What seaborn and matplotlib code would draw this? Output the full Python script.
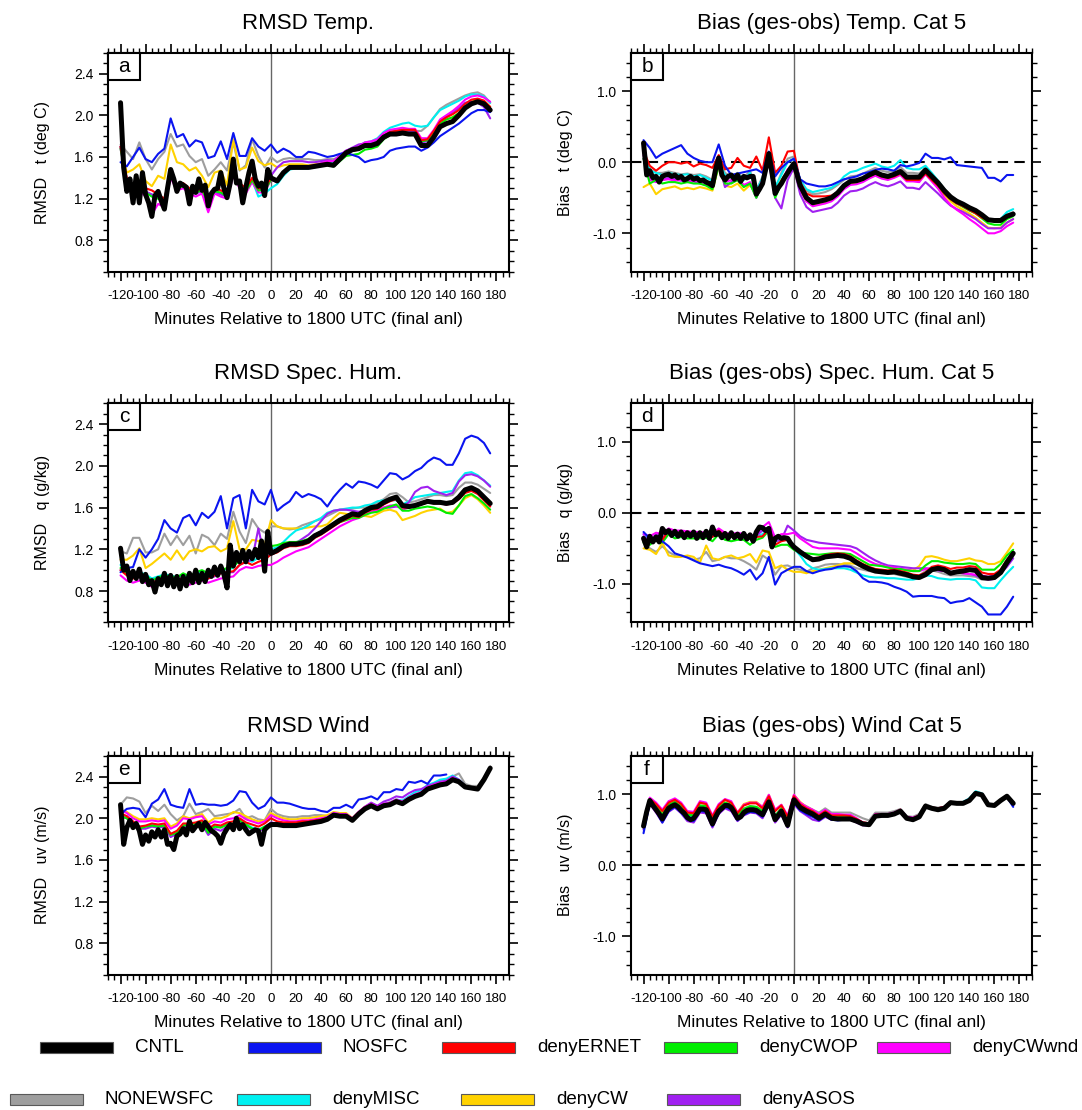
"""
plot.py - RMSD and bias (ges-obs) of surface obs against minutes relative to the
1800 UTC final analysis, for the CNTL run and eight surface data-denial runs.
"""

import numpy as np
import pandas as pd
import matplotlib
matplotlib.use('Agg')
import matplotlib.pyplot as plt
import seaborn as sns
from matplotlib.patches import Rectangle
from matplotlib.ticker import MultipleLocator, FormatStrFormatter

nan = np.nan

# ── Time axes (minutes relative to 1800 UTC) ──
MINUTES = np.arange(-120, 180, 5)                          # denial runs: every 5 min
MINUTES_CNTL = np.concatenate([np.arange(-120, 0, 2.5),   # CNTL: 2.5 min before anl
                               np.arange(0, 180, 5)])      # then 5 min

# drawing order (CNTL last, on top)
EXPERIMENTS = ['NONEWSFC', 'denyCW', 'denyMISC', 'denyASOS', 'denyCWwnd',
               'denyCWOP', 'denyERNET', 'NOSFC', 'CNTL']
COLORS = {'CNTL': '#000000', 'NOSFC': '#0a14f0', 'denyERNET': '#ff0000',
          'denyCWOP': '#00ee00', 'denyCWwnd': '#ff00ff', 'NONEWSFC': '#9e9e9e',
          'denyMISC': '#00f0f0', 'denyCW': '#ffd200', 'denyASOS': '#a020f0'}
WIDTHS = {name: 1.5 for name in EXPERIMENTS}
WIDTHS['CNTL'] = 3.6

# ── (a) RMSD temperature ──
A_CNTL = [2.12, 1.50, 1.27, 1.39, 1.16, 1.42, 1.16, 1.45, 1.24, 1.16, 1.03, 1.23,
          1.27, 1.18, 1.10, 1.30, 1.48, 1.39, 1.27, 1.35, 1.33, 1.31, 1.15, 1.32,
          1.26, 1.39, 1.28, 1.33, 1.13, 1.25, 1.29, 1.30, 1.45, 1.30, 1.21, 1.35,
          1.58, 1.35, 1.37, 1.16, 1.31, 1.45, 1.56, 1.39, 1.32, 1.35, 1.23, 1.48] + \
         [1.40, 1.37, 1.45, 1.50, 1.50, 1.50, 1.50, 1.51, 1.52, 1.53, 1.52, 1.58,
          1.64, 1.67, 1.68, 1.71, 1.71, 1.73, 1.79, 1.82, 1.82, 1.83, 1.82, 1.82,
          1.71, 1.71, 1.79, 1.89, 1.92, 1.94, 2.00, 2.07, 2.11, 2.13, 2.11, 2.05]
A_NOSFC = [1.55, 1.51, 1.60, 1.69, 1.58, 1.55, 1.63, 1.68, 1.97, 1.79, 1.82, 1.70,
           1.76, 1.74, 1.59, 1.61, 1.75, 1.58, 1.83, 1.61, 1.61, 1.78, 1.70, 1.66,
           1.72, 1.64, 1.68, 1.65, 1.60, 1.60, 1.65, 1.64, 1.62, 1.60, 1.61, 1.63,
           1.64, 1.62, 1.60, 1.55, 1.57, 1.58, 1.60, 1.66, 1.68, 1.69, 1.70, 1.70,
           1.66, 1.69, 1.74, 1.80, 1.84, 1.88, 1.92, 1.97, 2.02, 2.05, 2.05, 2.03]
A_ERNET = [1.70, 1.40, 1.28, 1.32, 1.30, 1.28, 1.24, 1.20, 1.44, 1.32, 1.35, 1.30,
           1.28, 1.30, 1.20, 1.30, 1.28, 1.25, 1.45, 1.35, 1.30, 1.40, 1.30, 1.30,
           1.40, 1.38, 1.45, 1.50, 1.50, 1.51, 1.51, 1.52, 1.53, 1.54, 1.53, 1.59,
           1.64, 1.66, 1.67, 1.71, 1.72, 1.74, 1.80, 1.84, 1.85, 1.86, 1.86, 1.86,
           1.76, 1.77, 1.85, 1.94, 1.98, 2.01, 2.05, 2.11, 2.15, 2.16, 2.14, 2.08]
A_CWOP = [1.68, 1.36, 1.25, 1.30, 1.26, 1.22, 1.20, 1.17, 1.42, 1.30, 1.32, 1.28,
          1.26, 1.28, 1.17, 1.27, 1.26, 1.22, 1.44, 1.32, 1.27, 1.38, 1.28, 1.28,
          1.38, 1.37, 1.44, 1.49, 1.50, 1.50, 1.50, 1.51, 1.52, 1.52, 1.51, 1.56,
          1.61, 1.62, 1.63, 1.67, 1.68, 1.70, 1.77, 1.81, 1.83, 1.84, 1.83, 1.83,
          1.75, 1.76, 1.83, 1.92, 1.96, 1.98, 2.02, 2.07, 2.11, 2.13, 2.11, 2.05]
A_CWWND = [1.68, 1.35, 1.22, 1.28, 1.22, 1.05, 1.15, 1.12, 1.40, 1.28, 1.30, 1.25,
           1.22, 1.25, 1.07, 1.25, 1.22, 1.20, 1.42, 1.30, 1.25, 1.36, 1.26, 1.26,
           1.38, 1.36, 1.44, 1.49, 1.50, 1.51, 1.51, 1.52, 1.54, 1.56, 1.56, 1.61,
           1.66, 1.68, 1.70, 1.74, 1.75, 1.77, 1.83, 1.86, 1.87, 1.88, 1.87, 1.87,
           1.78, 1.78, 1.86, 1.96, 2.00, 2.04, 2.09, 2.15, 2.18, 2.19, 2.17, 2.13]
A_NONEW = [1.72, 1.65, 1.58, 1.74, 1.58, 1.48, 1.58, 1.65, 1.82, 1.70, 1.72, 1.61,
           1.55, 1.58, 1.42, 1.48, 1.55, 1.47, 1.74, 1.47, 1.52, 1.77, 1.61, 1.50,
           1.60, 1.55, 1.58, 1.59, 1.58, 1.58, 1.58, 1.57, 1.57, 1.58, 1.58, 1.60,
           1.64, 1.67, 1.68, 1.72, 1.73, 1.75, 1.80, 1.83, 1.85, 1.86, 1.86, 1.85,
           1.85, 1.90, 1.98, 2.06, 2.10, 2.13, 2.16, 2.19, 2.21, 2.22, 2.19, 2.12]
A_MISC = [1.70, 1.38, 1.27, 1.30, 1.26, 1.24, 1.22, 1.15, 1.42, 1.30, 1.32, 1.28,
          1.25, 1.28, 1.17, 1.27, 1.25, 1.22, 1.44, 1.32, 1.28, 1.38, 1.22, 1.25,
          1.30, 1.34, 1.42, 1.48, 1.49, 1.49, 1.49, 1.50, 1.52, 1.54, 1.55, 1.60,
          1.66, 1.68, 1.70, 1.74, 1.75, 1.78, 1.84, 1.88, 1.90, 1.92, 1.93, 1.90,
          1.89, 1.90, 1.98, 2.05, 2.08, 2.11, 2.14, 2.18, 2.20, 2.20, 2.18, 2.12]
A_CW = [1.70, 1.45, 1.48, 1.53, 1.37, 1.32, 1.42, 1.39, 1.72, 1.55, 1.53, 1.47,
        1.50, 1.42, 1.31, 1.45, 1.47, 1.33, 1.77, 1.48, 1.50, 1.69, 1.56, 1.52,
        1.54, 1.50, 1.52, 1.53, 1.53, 1.53, 1.52, 1.53, 1.54, 1.55, 1.54, 1.59,
        1.64, 1.66, 1.67, 1.70, 1.70, 1.72, 1.78, 1.82, 1.83, 1.84, 1.83, 1.84,
        1.76, 1.76, 1.82, 1.92, 1.96, 1.98, 2.02, 2.08, 2.13, 2.15, 2.14, 2.08]
A_ASOS = [1.70, 1.38, 1.26, 1.30, 1.27, 1.24, 1.22, 1.12, 1.42, 1.30, 1.31, 1.27,
          1.25, 1.27, 1.15, 1.26, 1.24, 1.22, 1.46, 1.32, 1.28, 1.38, 1.28, 1.35,
          1.42, 1.50, 1.55, 1.56, 1.56, 1.56, 1.55, 1.55, 1.56, 1.57, 1.56, 1.62,
          1.66, 1.69, 1.72, 1.73, 1.73, 1.75, 1.81, 1.84, 1.85, 1.86, 1.85, 1.85,
          1.74, 1.75, 1.85, 1.94, 1.99, 2.03, 2.07, 2.12, 2.13, 2.12, 2.08, 1.97]

# ── (b) bias temperature ──
B_CNTL = [0.27, -0.18, -0.12, -0.22, -0.20, -0.28, -0.20, -0.18, -0.17, -0.20, -0.18, -0.22,
          -0.20, -0.25, -0.23, -0.20, -0.24, -0.22, -0.26, -0.25, -0.28, -0.30, -0.33, -0.10,
          0.06, -0.18, -0.25, -0.20, -0.18, -0.24, -0.18, -0.27, -0.20, -0.22, -0.20, -0.20,
          -0.45, -0.38, -0.30, -0.10, 0.12, -0.15, -0.44, -0.36, -0.30, -0.22, -0.15, -0.08] + \
         [-0.02, -0.33, -0.50, -0.57, -0.55, -0.53, -0.50, -0.43, -0.33, -0.27, -0.26, -0.23,
          -0.18, -0.14, -0.18, -0.20, -0.17, -0.13, -0.21, -0.21, -0.21, -0.11, -0.20, -0.29,
          -0.40, -0.49, -0.55, -0.59, -0.64, -0.68, -0.74, -0.81, -0.82, -0.82, -0.76, -0.73]
B_NOSFC = [0.31, 0.20, 0.06, 0.12, 0.16, 0.20, 0.24, 0.12, 0.06, 0.02, 0.00, 0.00,
           0.25, -0.05, -0.18, -0.16, -0.14, -0.12, -0.10, -0.15, 0.15, -0.20, -0.08, 0.00,
           0.05, -0.24, -0.30, -0.32, -0.34, -0.34, -0.32, -0.28, -0.24, -0.22, -0.20, -0.16,
           -0.14, -0.11, -0.09, -0.10, -0.12, -0.04, -0.06, -0.04, -0.01, 0.12, 0.06, 0.06,
           0.04, 0.07, -0.04, -0.05, -0.06, -0.07, -0.08, -0.22, -0.22, -0.27, -0.18, -0.18]
B_ERNET = [0.15, -0.05, -0.12, -0.05, 0.00, 0.00, -0.02, 0.00, -0.06, -0.02, -0.04, -0.08,
           0.10, -0.10, -0.08, 0.06, -0.05, -0.08, 0.08, -0.12, 0.35, -0.15, -0.05, 0.15,
           0.16, -0.28, -0.44, -0.48, -0.48, -0.48, -0.47, -0.42, -0.33, -0.28, -0.27, -0.24,
           -0.20, -0.16, -0.20, -0.22, -0.20, -0.16, -0.25, -0.25, -0.25, -0.16, -0.25, -0.33,
           -0.44, -0.52, -0.58, -0.62, -0.67, -0.72, -0.78, -0.82, -0.82, -0.83, -0.77, -0.74]
B_CWOP = [0.05, -0.30, -0.25, -0.30, -0.28, -0.28, -0.30, -0.28, -0.30, -0.30, -0.33, -0.38,
          -0.05, -0.30, -0.30, -0.25, -0.35, -0.30, -0.50, -0.30, 0.05, -0.50, -0.30, -0.15,
          -0.05, -0.35, -0.52, -0.58, -0.56, -0.54, -0.51, -0.44, -0.34, -0.28, -0.27, -0.24,
          -0.19, -0.15, -0.19, -0.21, -0.18, -0.14, -0.22, -0.22, -0.23, -0.13, -0.22, -0.32,
          -0.44, -0.52, -0.58, -0.63, -0.68, -0.72, -0.79, -0.86, -0.88, -0.88, -0.80, -0.76]
B_CWWND = [0.10, -0.25, -0.28, -0.25, -0.24, -0.26, -0.25, -0.27, -0.26, -0.28, -0.30, -0.35,
           0.00, -0.28, -0.25, -0.22, -0.32, -0.28, -0.45, -0.25, 0.05, -0.45, -0.28, -0.10,
           -0.05, -0.38, -0.55, -0.62, -0.60, -0.58, -0.55, -0.48, -0.38, -0.32, -0.31, -0.28,
           -0.23, -0.19, -0.23, -0.25, -0.22, -0.18, -0.27, -0.27, -0.28, -0.17, -0.27, -0.37,
           -0.50, -0.60, -0.67, -0.73, -0.80, -0.86, -0.93, -1.00, -1.00, -0.97, -0.90, -0.85]
B_NONEW = [0.22, -0.10, -0.15, -0.15, -0.13, -0.15, -0.17, -0.16, -0.18, -0.17, -0.20, -0.25,
           0.02, -0.15, -0.20, -0.15, -0.22, -0.12, -0.40, -0.20, 0.10, -0.38, -0.15, 0.05,
           0.08, -0.25, -0.40, -0.45, -0.44, -0.42, -0.38, -0.32, -0.25, -0.20, -0.19, -0.16,
           -0.12, -0.08, -0.12, -0.14, -0.12, -0.07, -0.15, -0.15, -0.16, -0.08, -0.17, -0.26,
           -0.37, -0.46, -0.53, -0.58, -0.63, -0.68, -0.74, -0.81, -0.80, -0.80, -0.74, -0.70]
B_MISC = [0.15, -0.12, -0.15, -0.18, -0.15, -0.17, -0.18, -0.17, -0.20, -0.18, -0.22, -0.26,
          0.00, -0.18, -0.22, -0.16, -0.25, -0.15, -0.40, -0.22, 0.08, -0.35, -0.18, 0.00,
          0.05, -0.25, -0.38, -0.42, -0.40, -0.38, -0.36, -0.30, -0.20, -0.14, -0.12, -0.08,
          -0.05, -0.02, -0.06, -0.08, -0.05, 0.03, -0.08, -0.10, -0.10, -0.05, -0.15, -0.26,
          -0.38, -0.48, -0.55, -0.60, -0.65, -0.70, -0.76, -0.82, -0.80, -0.80, -0.70, -0.66]
B_CW = [-0.35, -0.30, -0.45, -0.38, -0.36, -0.34, -0.38, -0.36, -0.38, -0.35, -0.37, -0.40,
        -0.05, -0.33, -0.35, -0.30, -0.40, -0.32, -0.45, -0.30, 0.05, -0.40, -0.25, -0.12,
        -0.10, -0.40, -0.55, -0.60, -0.58, -0.56, -0.53, -0.46, -0.36, -0.30, -0.29, -0.26,
        -0.21, -0.17, -0.21, -0.23, -0.20, -0.16, -0.25, -0.25, -0.26, -0.15, -0.24, -0.34,
        -0.46, -0.55, -0.62, -0.67, -0.72, -0.78, -0.85, -0.92, -0.93, -0.92, -0.85, -0.80]
B_ASOS = [0.05, -0.22, -0.20, -0.25, -0.22, -0.24, -0.26, -0.28, -0.27, -0.30, -0.32, -0.35,
          0.00, -0.35, -0.28, -0.25, -0.33, -0.30, -0.50, -0.30, 0.00, -0.50, -0.65, -0.25,
          -0.08, -0.45, -0.63, -0.70, -0.68, -0.66, -0.64, -0.57, -0.47, -0.41, -0.40, -0.37,
          -0.32, -0.28, -0.32, -0.34, -0.31, -0.27, -0.36, -0.36, -0.38, -0.28, -0.36, -0.44,
          -0.53, -0.61, -0.66, -0.70, -0.75, -0.80, -0.87, -0.93, -0.93, -0.93, -0.85, -0.80]

# ── (c) RMSD specific humidity ──
C_CNTL = [1.21, 1.00, 1.04, 0.90, 0.99, 0.92, 1.01, 0.89, 0.96, 0.86, 0.90, 0.79,
          0.92, 0.86, 0.97, 0.85, 0.95, 0.84, 0.94, 0.82, 0.94, 0.85, 0.97, 0.88,
          1.00, 0.88, 0.97, 0.89, 1.00, 0.94, 1.03, 0.95, 1.04, 0.96, 0.83, 1.24,
          1.04, 1.17, 1.08, 1.19, 1.08, 1.18, 1.11, 1.20, 1.12, 1.28, 0.99, 1.37] + \
         [1.16, 1.19, 1.23, 1.25, 1.25, 1.26, 1.28, 1.33, 1.36, 1.40, 1.44, 1.48,
          1.51, 1.54, 1.53, 1.57, 1.60, 1.61, 1.65, 1.68, 1.70, 1.62, 1.61, 1.62,
          1.64, 1.66, 1.65, 1.65, 1.64, 1.65, 1.70, 1.77, 1.79, 1.76, 1.70, 1.64]
C_NOSFC = [0.98, 1.02, 1.03, 1.20, 1.12, 1.20, 1.30, 1.48, 1.40, 1.36, 1.50, 1.53,
           1.43, 1.55, 1.50, 1.56, 1.71, 1.40, 1.69, 1.72, 1.40, 1.77, 1.66, 1.63,
           1.77, 1.57, 1.62, 1.66, 1.75, 1.70, 1.73, 1.71, 1.68, 1.61, 1.70, 1.77,
           1.83, 1.79, 1.85, 1.84, 1.82, 1.79, 1.86, 1.93, 1.92, 1.87, 1.90, 1.95,
           1.98, 2.04, 2.08, 2.06, 2.01, 2.01, 2.12, 2.26, 2.29, 2.27, 2.22, 2.12]
C_ERNET = [1.00, 0.95, 0.92, 0.95, 0.93, 0.88, 0.90, 0.93, 0.92, 0.90, 0.93, 0.90,
           0.93, 0.95, 0.92, 0.95, 0.97, 0.98, 0.99, 1.05, 1.08, 1.05, 1.08, 1.10,
           1.15, 1.17, 1.21, 1.23, 1.23, 1.24, 1.26, 1.31, 1.34, 1.38, 1.42, 1.46,
           1.49, 1.52, 1.51, 1.55, 1.58, 1.59, 1.63, 1.66, 1.68, 1.60, 1.60, 1.61,
           1.63, 1.65, 1.64, 1.64, 1.63, 1.64, 1.68, 1.74, 1.76, 1.73, 1.67, 1.61]
C_CWOP = [1.02, 0.97, 0.95, 0.97, 0.95, 0.90, 0.93, 0.95, 0.94, 0.93, 0.97, 0.94,
          0.98, 1.00, 0.97, 0.98, 1.00, 1.02, 1.03, 1.10, 1.12, 1.12, 1.15, 1.16,
          1.23, 1.24, 1.26, 1.27, 1.27, 1.28, 1.30, 1.34, 1.37, 1.40, 1.43, 1.46,
          1.48, 1.50, 1.50, 1.53, 1.55, 1.56, 1.59, 1.61, 1.63, 1.57, 1.57, 1.59,
          1.60, 1.61, 1.60, 1.58, 1.55, 1.54, 1.62, 1.71, 1.73, 1.69, 1.64, 1.58]
C_CWWND = [0.95, 0.90, 0.88, 0.90, 0.88, 0.84, 0.86, 0.89, 0.88, 0.86, 0.89, 0.86,
           0.88, 0.90, 0.88, 0.90, 0.92, 0.93, 0.94, 1.00, 1.03, 1.02, 1.04, 1.05,
           1.05, 1.08, 1.12, 1.15, 1.18, 1.20, 1.22, 1.26, 1.30, 1.34, 1.38, 1.42,
           1.45, 1.48, 1.50, 1.53, 1.56, 1.57, 1.60, 1.62, 1.62, 1.58, 1.60, 1.62,
           1.64, 1.65, 1.65, 1.64, 1.63, 1.64, 1.70, 1.76, 1.78, 1.75, 1.68, 1.62]
C_NONEW = [1.18, 1.16, 1.31, 1.31, 1.17, 1.17, 1.20, 1.35, 1.24, 1.33, 1.24, 1.33,
           1.16, 1.34, 1.31, 1.24, 1.35, 1.30, 1.56, 1.37, 1.26, 1.49, 1.40, 1.36,
           1.42, 1.42, 1.40, 1.39, 1.40, 1.43, 1.45, 1.47, 1.49, 1.52, 1.55, 1.58,
           1.58, 1.59, 1.60, 1.60, 1.62, 1.65, 1.68, 1.73, 1.74, 1.70, 1.65, 1.66,
           1.68, 1.70, 1.72, 1.72, 1.71, 1.72, 1.79, 1.84, 1.84, 1.82, 1.78, 1.74]
C_MISC = [1.05, 1.00, 0.95, 0.98, 0.96, 0.92, 0.94, 0.96, 0.95, 0.93, 0.96, 0.93,
          0.96, 0.98, 0.95, 0.97, 1.00, 1.01, 1.02, 1.12, 1.10, 1.08, 1.12, 1.14,
          1.20, 1.22, 1.27, 1.33, 1.38, 1.40, 1.43, 1.47, 1.50, 1.55, 1.57, 1.58,
          1.59, 1.60, 1.60, 1.62, 1.63, 1.66, 1.67, 1.67, 1.67, 1.63, 1.66, 1.70,
          1.71, 1.72, 1.73, 1.74, 1.75, 1.76, 1.86, 1.93, 1.94, 1.91, 1.86, 1.81]
C_CW = [1.10, 1.10, 1.14, 1.21, 1.02, 1.06, 1.11, 1.16, 1.10, 1.19, 1.10, 1.18,
        1.20, 1.18, 1.22, 1.23, 1.18, 1.21, 1.47, 1.20, 1.20, 1.29, 1.28, 1.24,
        1.48, 1.42, 1.40, 1.40, 1.40, 1.40, 1.41, 1.42, 1.42, 1.44, 1.50, 1.55,
        1.54, 1.53, 1.52, 1.52, 1.51, 1.54, 1.57, 1.58, 1.56, 1.48, 1.50, 1.52,
        1.55, 1.57, 1.58, 1.59, 1.55, 1.56, 1.62, 1.69, 1.72, 1.68, 1.62, 1.55]
C_ASOS = [1.00, 0.96, 0.93, 0.95, 0.93, 0.89, 0.91, 0.93, 0.92, 0.90, 0.93, 0.90,
          0.93, 0.95, 0.92, 0.94, 0.97, 0.98, 0.98, 1.05, 1.08, 1.10, 1.40, 1.12,
          1.15, 1.18, 1.22, 1.25, 1.26, 1.30, 1.34, 1.40, 1.47, 1.54, 1.57, 1.58,
          1.58, 1.57, 1.56, 1.57, 1.56, 1.58, 1.60, 1.60, 1.61, 1.60, 1.65, 1.75,
          1.79, 1.80, 1.76, 1.74, 1.72, 1.74, 1.85, 1.91, 1.92, 1.90, 1.86, 1.80]

# ── (d) bias specific humidity ──
D_CNTL = [-0.36, -0.48, -0.33, -0.41, -0.34, -0.41, -0.22, -0.28, -0.25, -0.32, -0.26, -0.33,
          -0.27, -0.35, -0.28, -0.33, -0.27, -0.36, -0.28, -0.35, -0.26, -0.36, -0.20, -0.31,
          -0.28, -0.35, -0.29, -0.36, -0.28, -0.35, -0.30, -0.36, -0.29, -0.37, -0.31, -0.40,
          -0.27, -0.20, -0.21, -0.25, -0.22, -0.48, -0.36, -0.33, -0.36, -0.35, -0.36, -0.43] + \
         [-0.48, -0.55, -0.61, -0.66, -0.65, -0.62, -0.61, -0.60, -0.61, -0.64, -0.70, -0.75,
          -0.79, -0.82, -0.83, -0.84, -0.83, -0.85, -0.87, -0.90, -0.91, -0.87, -0.80, -0.78,
          -0.80, -0.85, -0.83, -0.82, -0.80, -0.81, -0.91, -0.92, -0.91, -0.84, -0.70, -0.57]
D_NOSFC = [-0.27, -0.36, -0.38, -0.40, -0.47, -0.57, -0.60, -0.63, -0.67, -0.71, -0.73, -0.75,
           -0.73, -0.76, -0.78, -0.82, -0.87, -0.80, -0.94, -0.85, -0.62, -1.01, -0.85, -0.80,
           -0.76, -0.76, -0.82, -0.85, -0.82, -0.80, -0.79, -0.76, -0.75, -0.76, -0.82, -0.92,
           -0.97, -0.97, -0.98, -1.00, -1.04, -1.07, -1.11, -1.18, -1.17, -1.17, -1.17, -1.19,
           -1.20, -1.27, -1.25, -1.24, -1.20, -1.26, -1.32, -1.43, -1.43, -1.43, -1.32, -1.18]
D_ERNET = [-0.38, -0.40, -0.33, -0.38, -0.25, -0.30, -0.28, -0.30, -0.30, -0.30, -0.30, -0.34,
           -0.25, -0.33, -0.33, -0.33, -0.32, -0.35, -0.34, -0.33, -0.22, -0.45, -0.40, -0.38,
           -0.48, -0.55, -0.62, -0.64, -0.63, -0.60, -0.58, -0.57, -0.58, -0.61, -0.67, -0.72,
           -0.76, -0.79, -0.80, -0.81, -0.80, -0.82, -0.84, -0.87, -0.88, -0.84, -0.76, -0.74,
           -0.76, -0.79, -0.77, -0.77, -0.75, -0.76, -0.84, -0.86, -0.86, -0.80, -0.66, -0.55]
D_CWOP = [-0.42, -0.45, -0.38, -0.42, -0.30, -0.36, -0.34, -0.36, -0.36, -0.36, -0.35, -0.40,
          -0.30, -0.38, -0.40, -0.38, -0.38, -0.45, -0.38, -0.35, -0.25, -0.48, -0.45, -0.45,
          -0.52, -0.56, -0.57, -0.58, -0.59, -0.58, -0.57, -0.57, -0.57, -0.58, -0.63, -0.68,
          -0.73, -0.74, -0.75, -0.77, -0.79, -0.79, -0.81, -0.82, -0.82, -0.74, -0.68, -0.68,
          -0.70, -0.71, -0.72, -0.72, -0.71, -0.72, -0.80, -0.80, -0.80, -0.72, -0.60, -0.52]
D_CWWND = [-0.30, -0.33, -0.28, -0.30, -0.22, -0.25, -0.25, -0.26, -0.27, -0.27, -0.28, -0.30,
           -0.22, -0.28, -0.30, -0.28, -0.30, -0.33, -0.30, -0.20, -0.13, -0.35, -0.30, -0.30,
           -0.28, -0.36, -0.42, -0.48, -0.50, -0.50, -0.50, -0.50, -0.51, -0.52, -0.57, -0.63,
           -0.68, -0.72, -0.74, -0.76, -0.77, -0.79, -0.80, -0.82, -0.82, -0.79, -0.78, -0.80,
           -0.82, -0.84, -0.84, -0.85, -0.86, -0.87, -0.88, -0.90, -0.88, -0.82, -0.70, -0.58]
D_NONEW = [-0.41, -0.50, -0.55, -0.47, -0.55, -0.60, -0.60, -0.62, -0.66, -0.64, -0.55, -0.68,
           -0.66, -0.62, -0.64, -0.64, -0.68, -0.73, -0.80, -0.60, -0.66, -0.87, -0.75, -0.74,
           -0.78, -0.80, -0.83, -0.78, -0.76, -0.73, -0.72, -0.72, -0.73, -0.74, -0.78, -0.80,
           -0.82, -0.83, -0.84, -0.85, -0.86, -0.88, -0.90, -0.90, -0.88, -0.82, -0.81, -0.83,
           -0.86, -0.88, -0.88, -0.88, -0.89, -0.90, -0.94, -0.94, -0.93, -0.80, -0.66, -0.57]
D_MISC = [-0.30, -0.40, -0.33, -0.38, -0.28, -0.32, -0.29, -0.32, -0.30, -0.31, -0.30, -0.34,
          -0.26, -0.33, -0.33, -0.32, -0.33, -0.36, -0.33, -0.30, -0.22, -0.40, -0.38, -0.36,
          -0.50, -0.60, -0.72, -0.78, -0.80, -0.79, -0.78, -0.78, -0.78, -0.80, -0.84, -0.88,
          -0.90, -0.91, -0.91, -0.92, -0.92, -0.93, -0.94, -0.94, -0.92, -0.88, -0.89, -0.92,
          -0.93, -0.94, -0.93, -0.93, -0.93, -0.95, -1.05, -1.06, -1.06, -0.95, -0.85, -0.76]
D_CW = [-0.50, -0.52, -0.58, -0.42, -0.60, -0.62, -0.62, -0.60, -0.62, -0.70, -0.46, -0.64,
        -0.66, -0.62, -0.60, -0.64, -0.62, -0.58, -0.70, -0.53, -0.55, -0.78, -0.74, -0.80,
        -0.83, -0.83, -0.85, -0.82, -0.80, -0.78, -0.76, -0.74, -0.71, -0.71, -0.72, -0.77,
        -0.78, -0.80, -0.81, -0.82, -0.81, -0.80, -0.80, -0.81, -0.75, -0.62, -0.61, -0.63,
        -0.66, -0.68, -0.68, -0.66, -0.64, -0.67, -0.68, -0.72, -0.72, -0.68, -0.56, -0.43]
D_ASOS = [-0.33, -0.40, -0.30, -0.36, -0.25, -0.30, -0.28, -0.30, -0.29, -0.30, -0.29, -0.33,
          -0.24, -0.31, -0.32, -0.31, -0.32, -0.35, -0.32, -0.25, -0.20, -0.40, -0.38, -0.18,
          -0.25, -0.33, -0.38, -0.40, -0.42, -0.43, -0.44, -0.45, -0.46, -0.47, -0.50, -0.56,
          -0.62, -0.67, -0.71, -0.74, -0.75, -0.76, -0.77, -0.78, -0.78, -0.78, -0.79, -0.81,
          -0.82, -0.83, -0.84, -0.85, -0.86, -0.88, -0.92, -0.94, -0.93, -0.85, -0.76, -0.64]

# ── (e) RMSD wind ──
E_CNTL = [2.13, 1.75, 1.91, 1.98, 1.91, 1.95, 1.88, 1.75, 1.84, 1.78, 1.87, 1.82,
          1.89, 1.82, 1.89, 1.75, 1.76, 1.70, 1.83, 1.85, 1.90, 1.84, 1.97, 1.88,
          1.92, 1.95, 1.89, 1.96, 1.92, 1.88, 1.86, 1.83, 1.76, 1.85, 1.90, 1.94,
          1.89, 2.00, 1.90, 1.94, 1.89, 1.85, 1.87, 1.89, 1.88, 1.75, 1.89, 1.92] + \
         [1.94, 1.94, 1.93, 1.93, 1.93, 1.94, 1.95, 1.96, 1.97, 1.99, 2.03, 2.02,
          2.02, 1.98, 2.04, 2.09, 2.12, 2.09, 2.12, 2.13, 2.16, 2.14, 2.18, 2.21,
          2.23, 2.28, 2.30, 2.32, 2.33, 2.37, 2.35, 2.30, 2.29, 2.28, 2.37, 2.48]
E_NOSFC = [2.04, 2.09, 2.10, 2.09, 2.01, 2.14, 2.18, 2.28, 2.13, 2.11, 2.10, 2.28,
           2.13, 2.14, 2.13, 2.13, 2.12, 2.13, 2.17, 2.26, 2.25, 2.15, 2.09, 2.12,
           2.20, 2.15, 2.15, 2.14, 2.12, 2.10, 2.09, 2.09, 2.07, 2.06, 2.10, 2.10,
           2.13, 2.10, 2.18, 2.19, 2.21, 2.18, 2.25, 2.25, 2.28, 2.27, 2.35, 2.34,
           2.36, 2.33, 2.41, 2.41, 2.42, nan, nan, nan, nan, nan, nan, nan]
E_ERNET = [2.05, 2.02, 1.97, 1.92, 1.93, 1.95, 1.94, 1.95, 1.85, 1.88, 1.95, 1.95,
           1.96, 1.98, 1.90, 1.94, 1.93, 1.96, 1.97, 2.00, 1.96, 1.94, 1.92, 1.95,
           2.00, 1.97, 1.96, 1.96, 1.96, 1.97, 1.97, 1.98, 1.99, 2.00, 2.04, 2.03,
           2.03, 1.99, 2.05, 2.10, 2.13, 2.10, 2.13, 2.14, 2.17, 2.15, 2.19, 2.22,
           2.24, 2.29, 2.31, 2.33, 2.34, 2.38, 2.36, 2.31, 2.30, 2.29, 2.38, 2.48]
E_CWOP = [2.02, 2.00, 1.95, 1.90, 1.92, 1.93, 1.92, 1.93, 1.84, 1.86, 1.93, 1.94,
          1.95, 1.96, 1.86, 1.92, 1.91, 1.94, 1.95, 1.98, 1.94, 1.90, 1.88, 1.92,
          1.94, 1.94, 1.94, 1.94, 1.94, 1.95, 1.96, 1.97, 1.98, 2.00, 2.04, 2.03,
          2.03, 1.99, 2.05, 2.10, 2.13, 2.10, 2.13, 2.14, 2.17, 2.15, 2.19, 2.22,
          2.24, 2.29, 2.31, 2.33, 2.34, 2.38, 2.36, 2.31, 2.30, 2.29, 2.38, 2.48]
E_CWWND = [2.08, 2.05, 2.00, 1.97, 1.97, 1.98, 1.97, 1.98, 1.90, 1.93, 2.00, 1.99,
           2.01, 2.02, 1.94, 1.97, 1.96, 1.99, 2.00, 2.03, 1.99, 1.97, 1.95, 1.97,
           2.03, 2.00, 1.98, 1.97, 1.97, 1.98, 1.98, 1.99, 2.00, 2.01, 2.05, 2.04,
           2.04, 2.00, 2.06, 2.11, 2.14, 2.11, 2.14, 2.15, 2.18, 2.16, 2.20, 2.23,
           2.25, 2.30, 2.32, 2.34, 2.35, 2.39, 2.35, 2.30, 2.29, 2.29, 2.38, 2.49]
E_NONEW = [2.13, 2.20, 2.19, 2.16, 2.05, 2.12, 2.07, 2.13, 2.04, 1.98, 2.02, 2.14,
           2.04, 2.06, 2.09, 2.02, 2.03, 2.04, 2.05, 2.09, 2.00, 2.02, 1.99, 1.98,
           2.09, 2.04, 2.02, 2.01, 2.01, 2.02, 2.02, 2.03, 2.03, 2.02, 2.03, 2.04,
           2.03, 1.99, 2.05, 2.10, 2.14, 2.10, 2.13, 2.15, 2.17, 2.16, 2.20, 2.23,
           2.25, 2.30, 2.33, 2.36, 2.37, 2.40, 2.43, 2.33, 2.31, 2.31, 2.39, 2.50]
E_MISC = [2.00, 2.02, 1.96, 1.92, 1.92, 1.94, 1.93, 1.94, 1.85, 1.87, 1.94, 1.94,
          1.95, 1.97, 1.88, 1.93, 1.92, 1.95, 1.96, 1.99, 1.95, 1.91, 1.89, 1.92,
          1.94, 1.93, 1.93, 1.93, 1.93, 1.94, 1.95, 1.96, 1.98, 2.00, 2.04, 2.03,
          2.03, 1.99, 2.05, 2.10, 2.13, 2.10, 2.14, 2.15, 2.18, 2.17, 2.21, 2.25,
          2.27, 2.32, 2.34, 2.37, 2.38, 2.41, 2.37, 2.31, 2.30, 2.29, 2.38, 2.48]
E_CW = [2.08, 2.06, 2.02, 1.99, 1.99, 2.00, 1.99, 2.00, 1.92, 1.95, 2.02, 2.00,
        2.02, 2.04, 1.96, 2.00, 2.00, 2.02, 2.06, 2.05, 2.02, 1.99, 1.97, 1.98,
        2.05, 2.02, 2.00, 1.99, 1.99, 2.00, 2.00, 2.01, 2.02, 2.03, 2.06, 2.05,
        2.05, 2.00, 2.06, 2.11, 2.14, 2.11, 2.14, 2.15, 2.18, 2.16, 2.20, 2.23,
        2.25, 2.30, 2.32, 2.34, 2.35, 2.38, 2.35, 2.30, 2.29, 2.29, 2.38, 2.48]
E_ASOS = [2.02, 2.00, 1.94, 1.90, 1.90, 1.92, 1.91, 1.92, 1.82, 1.85, 1.92, 1.90,
          1.93, 1.94, 1.84, 1.90, 1.88, 1.92, 1.94, 1.97, 1.93, 1.89, 1.87, 1.91,
          1.96, 1.95, 1.95, 1.95, 1.95, 1.96, 1.97, 1.98, 1.99, 2.01, 2.05, 2.04,
          2.04, 1.99, 2.06, 2.11, 2.15, 2.12, 2.16, 2.18, 2.21, 2.20, 2.24, 2.27,
          2.28, 2.31, 2.33, 2.35, 2.36, 2.40, 2.37, 2.31, 2.30, 2.29, 2.38, 2.48]

# ── (f) bias wind ──
F_CNTL = [0.55, 0.75, 0.91, 0.84, 0.78, 0.72, 0.65, 0.73, 0.80, 0.83, 0.85, 0.82,
          0.77, 0.73, 0.67, 0.64, 0.66, 0.72, 0.79, 0.79, 0.78, 0.68, 0.58, 0.68,
          0.76, 0.80, 0.84, 0.84, 0.81, 0.74, 0.66, 0.68, 0.74, 0.77, 0.78, 0.78,
          0.77, 0.74, 0.71, 0.80, 0.89, 0.77, 0.64, 0.70, 0.76, 0.66, 0.56, 0.75] + \
         [0.92, 0.81, 0.76, 0.72, 0.66, 0.72, 0.66, 0.65, 0.65, 0.65, 0.62, 0.58,
          0.57, 0.69, 0.70, 0.70, 0.72, 0.76, 0.66, 0.64, 0.68, 0.83, 0.80, 0.78,
          0.80, 0.88, 0.87, 0.87, 0.91, 1.01, 0.99, 0.85, 0.84, 0.91, 0.97, 0.87]
F_NOSFC = [0.45, 0.88, 0.76, 0.60, 0.76, 0.82, 0.74, 0.64, 0.62, 0.76, 0.75, 0.55,
           0.73, 0.82, 0.78, 0.63, 0.71, 0.75, 0.74, 0.68, 0.86, 0.62, 0.72, 0.54,
           0.88, 0.77, 0.72, 0.68, 0.63, 0.69, 0.64, 0.63, 0.64, 0.64, 0.61, 0.57,
           0.56, 0.68, 0.69, 0.69, 0.71, 0.75, 0.65, 0.63, 0.67, 0.82, 0.79, 0.78,
           0.80, 0.88, 0.87, 0.87, 0.91, 1.01, 0.99, 0.84, 0.84, 0.91, 0.96, 0.82]
F_ERNET = [0.58, 0.93, 0.86, 0.76, 0.88, 0.92, 0.86, 0.74, 0.73, 0.88, 0.86, 0.68,
           0.84, 0.92, 0.88, 0.73, 0.84, 0.87, 0.87, 0.80, 0.97, 0.76, 0.84, 0.68,
           0.97, 0.86, 0.80, 0.76, 0.70, 0.76, 0.70, 0.70, 0.70, 0.69, 0.65, 0.60,
           0.59, 0.71, 0.71, 0.71, 0.73, 0.78, 0.67, 0.66, 0.70, 0.84, 0.81, 0.80,
           0.82, 0.89, 0.88, 0.88, 0.92, 1.01, 0.99, 0.85, 0.84, 0.91, 0.97, 0.88]
F_CWOP = [0.57, 0.92, 0.83, 0.71, 0.85, 0.89, 0.82, 0.71, 0.70, 0.84, 0.83, 0.63,
          0.81, 0.88, 0.85, 0.70, 0.79, 0.83, 0.82, 0.76, 0.93, 0.69, 0.80, 0.61,
          0.94, 0.84, 0.78, 0.74, 0.68, 0.74, 0.68, 0.68, 0.68, 0.68, 0.64, 0.59,
          0.58, 0.70, 0.71, 0.71, 0.73, 0.77, 0.66, 0.65, 0.69, 0.84, 0.81, 0.79,
          0.81, 0.88, 0.87, 0.87, 0.92, 1.01, 0.99, 0.85, 0.84, 0.91, 0.97, 0.87]
F_CWWND = [0.60, 0.95, 0.88, 0.78, 0.90, 0.94, 0.88, 0.76, 0.75, 0.90, 0.88, 0.70,
           0.86, 0.93, 0.90, 0.74, 0.85, 0.88, 0.88, 0.82, 0.99, 0.78, 0.85, 0.70,
           0.99, 0.88, 0.82, 0.78, 0.72, 0.78, 0.72, 0.72, 0.71, 0.71, 0.66, 0.60,
           0.59, 0.72, 0.72, 0.72, 0.74, 0.78, 0.68, 0.67, 0.70, 0.84, 0.81, 0.80,
           0.82, 0.89, 0.88, 0.88, 0.93, 1.02, 1.00, 0.86, 0.85, 0.91, 0.97, 0.88]
F_NONEW = [0.56, 0.90, 0.84, 0.72, 0.85, 0.89, 0.82, 0.72, 0.71, 0.84, 0.83, 0.63,
           0.81, 0.88, 0.85, 0.71, 0.80, 0.83, 0.82, 0.77, 0.92, 0.70, 0.80, 0.61,
           0.96, 0.87, 0.83, 0.78, 0.74, 0.80, 0.74, 0.74, 0.74, 0.74, 0.70, 0.66,
           0.63, 0.74, 0.74, 0.74, 0.76, 0.79, 0.69, 0.68, 0.72, 0.86, 0.82, 0.81,
           0.82, 0.89, 0.88, 0.88, 0.93, 1.02, 1.00, 0.86, 0.85, 0.92, 0.97, 0.88]
F_MISC = [0.55, 0.90, 0.81, 0.69, 0.83, 0.87, 0.80, 0.70, 0.68, 0.82, 0.81, 0.61,
          0.79, 0.86, 0.83, 0.69, 0.77, 0.81, 0.80, 0.74, 0.91, 0.67, 0.78, 0.59,
          0.93, 0.83, 0.78, 0.73, 0.68, 0.74, 0.68, 0.67, 0.67, 0.67, 0.63, 0.59,
          0.58, 0.70, 0.71, 0.71, 0.73, 0.77, 0.66, 0.65, 0.69, 0.84, 0.81, 0.80,
          0.82, 0.89, 0.88, 0.89, 0.94, 1.04, 1.01, 0.86, 0.85, 0.91, 0.97, 0.86]
F_CW = [0.58, 0.92, 0.86, 0.75, 0.88, 0.91, 0.86, 0.74, 0.74, 0.88, 0.86, 0.68,
        0.85, 0.92, 0.88, 0.74, 0.86, 0.89, 0.89, 0.82, 0.99, 0.77, 0.85, 0.68,
        0.99, 0.89, 0.82, 0.78, 0.70, 0.75, 0.70, 0.69, 0.69, 0.69, 0.65, 0.60,
        0.59, 0.71, 0.71, 0.71, 0.72, 0.76, 0.66, 0.65, 0.69, 0.84, 0.81, 0.80,
        0.82, 0.89, 0.88, 0.88, 0.92, 1.01, 0.99, 0.85, 0.84, 0.91, 0.97, 0.87]
F_ASOS = [0.50, 0.86, 0.74, 0.60, 0.75, 0.81, 0.73, 0.62, 0.60, 0.74, 0.73, 0.53,
          0.72, 0.80, 0.76, 0.62, 0.70, 0.74, 0.73, 0.66, 0.85, 0.60, 0.71, 0.53,
          0.86, 0.76, 0.70, 0.64, 0.62, 0.68, 0.64, 0.64, 0.64, 0.64, 0.60, 0.56,
          0.56, 0.68, 0.69, 0.70, 0.72, 0.76, 0.65, 0.64, 0.67, 0.83, 0.80, 0.79,
          0.81, 0.88, 0.87, 0.88, 0.92, 1.01, 0.99, 0.85, 0.84, 0.91, 0.96, 0.84]

TITLES = ['RMSD Temp.', 'Bias (ges-obs) Temp. Cat 5',
          'RMSD Spec. Hum.', 'Bias (ges-obs) Spec. Hum. Cat 5',
          'RMSD Wind', 'Bias (ges-obs) Wind Cat 5']
YLABELS = ['RMSD   t (deg C)', 'Bias   t (deg C)',
           'RMSD   q (g/kg)', 'Bias   q (g/kg)',
           'RMSD   uv (m/s)', 'Bias   uv (m/s)']
XLABEL = 'Minutes Relative to 1800 UTC (final anl)'
LETTERS = ['a', 'b', 'c', 'd', 'e', 'f']


def series_set(cntl, nosfc, ernet, cwop, cwwnd, nonew, misc, cw, asos):
    return {'CNTL': cntl, 'NOSFC': nosfc, 'denyERNET': ernet, 'denyCWOP': cwop,
            'denyCWwnd': cwwnd, 'NONEWSFC': nonew, 'denyMISC': misc,
            'denyCW': cw, 'denyASOS': asos}


PANEL_DATA = [
    series_set(A_CNTL, A_NOSFC, A_ERNET, A_CWOP, A_CWWND, A_NONEW, A_MISC, A_CW, A_ASOS),
    series_set(B_CNTL, B_NOSFC, B_ERNET, B_CWOP, B_CWWND, B_NONEW, B_MISC, B_CW, B_ASOS),
    series_set(C_CNTL, C_NOSFC, C_ERNET, C_CWOP, C_CWWND, C_NONEW, C_MISC, C_CW, C_ASOS),
    series_set(D_CNTL, D_NOSFC, D_ERNET, D_CWOP, D_CWWND, D_NONEW, D_MISC, D_CW, D_ASOS),
    series_set(E_CNTL, E_NOSFC, E_ERNET, E_CWOP, E_CWWND, E_NONEW, E_MISC, E_CW, E_ASOS),
    series_set(F_CNTL, F_NOSFC, F_ERNET, F_CWOP, F_CWWND, F_NONEW, F_MISC, F_CW, F_ASOS),
]

W, H = 1082, 1110
AX_LEFT = [108 / W, 631 / W]
AX_WIDTH = 401 / W
AX_BOTTOM = [1 - 271.7 / H, 1 - 622.3 / H, 1 - 974.7 / H]
AX_HEIGHT = 219 / H

# legend layout: (name, patch left px, row centre px)
LEGEND = [('CNTL', 40, 1047), ('NOSFC', 248, 1047), ('denyERNET', 442, 1047),
          ('denyCWOP', 664, 1047), ('denyCWwnd', 877, 1047),
          ('NONEWSFC', 10, 1099), ('denyMISC', 237, 1099), ('denyCW', 461, 1099),
          ('denyASOS', 667, 1099)]


def long_frame(series):
    frames = []
    for name, vals in series.items():
        x = MINUTES_CNTL if name == 'CNTL' else MINUTES
        assert len(vals) == len(x), (name, len(vals), len(x))
        frames.append(pd.DataFrame({'minute': x, 'value': vals, 'exp': name}))
    return pd.concat(frames, ignore_index=True).dropna()


def draw_panel(ax, series, idx):
    is_bias = idx % 2 == 1
    df = long_frame(series)
    ax.axvline(0, color='0.4', lw=1.0, zorder=1)
    if is_bias:
        ax.axhline(0, color='black', lw=1.5, ls=(0, (5, 3)), zorder=1)
    sns.lineplot(data=df, x='minute', y='value', hue='exp', hue_order=EXPERIMENTS,
                 palette=COLORS, size='exp', size_order=EXPERIMENTS, sizes=WIDTHS,
                 estimator=None, legend=False, ax=ax)

    ax.set_xlim(-130, 190)
    ax.xaxis.set_major_locator(MultipleLocator(20))
    ax.xaxis.set_minor_locator(MultipleLocator(5))
    if is_bias:
        ax.set_ylim(-1.54, 1.54)
        ax.yaxis.set_major_locator(MultipleLocator(1.0))
        ax.yaxis.set_minor_locator(MultipleLocator(0.2))
    else:
        ax.set_ylim(0.5, 2.6)
        ax.yaxis.set_major_locator(MultipleLocator(0.4))
        ax.yaxis.set_minor_locator(MultipleLocator(0.1))
    ax.yaxis.set_major_formatter(FormatStrFormatter('%.1f'))
    ax.tick_params(which='both', top=True, right=True, direction='out',
                   color='black', labelcolor='black')
    ax.tick_params(which='major', length=6.5, width=1.2)
    ax.tick_params(which='minor', length=3.5, width=1.0)
    ax.tick_params(axis='x', labelsize=9.5, pad=7)
    ax.tick_params(axis='y', labelsize=10, pad=4)
    for sp in ax.spines.values():
        sp.set_linewidth(1.5)
        sp.set_color('black')

    ax.set_xlabel(XLABEL, fontsize=12.5, color='black')
    ax.xaxis.set_label_coords(0.5, -0.22)
    ax.xaxis.label.set_va('center')
    ax.set_ylabel(YLABELS[idx], fontsize=11.5, color='black')
    ax.yaxis.set_label_coords(-0.145, 0.5)
    ax.text(0.5, 1.11, TITLES[idx], transform=ax.transAxes, ha='center',
            va='baseline', fontsize=16, color='black')

    # panel letter in a box at the top-left corner
    bw, bh = 32 / 401, 27 / 219
    ax.add_patch(Rectangle((0, 1 - bh), bw, bh, transform=ax.transAxes, fc='white',
                           ec='black', lw=1.5, zorder=5, clip_on=False))
    ax.text(bw / 2, 1 - bh / 2, LETTERS[idx], transform=ax.transAxes, ha='center',
            va='center', fontsize=15, color='black', zorder=6)


def main():
    sns.set_theme(style='ticks')
    plt.rcParams['font.family'] = ['Liberation Sans', 'DejaVu Sans']
    plt.rcParams['axes.unicode_minus'] = False
    plt.rcParams['text.color'] = 'black'
    plt.rcParams['axes.labelcolor'] = 'black'

    fig = plt.figure(figsize=(W / 100, H / 100), dpi=100)
    fig.patch.set_facecolor('white')

    for idx, series in enumerate(PANEL_DATA):
        row, col = divmod(idx, 2)
        ax = fig.add_axes([AX_LEFT[col], AX_BOTTOM[row], AX_WIDTH, AX_HEIGHT])
        draw_panel(ax, series, idx)

    # legend: colour bars + names
    for name, x0, yc in LEGEND:
        fig.patches.append(Rectangle((x0 / W, 1 - (yc + 5.5) / H), 73 / W, 11 / H,
                                     transform=fig.transFigure, fc=COLORS[name],
                                     ec='0.35', lw=0.8))
        fig.text((x0 + 95) / W, 1 - yc / H, name, ha='left', va='center',
                 fontsize=13.5, color='black')

    fig.savefig('out.png', dpi=100)
    plt.close(fig)


if __name__ == '__main__':
    main()
